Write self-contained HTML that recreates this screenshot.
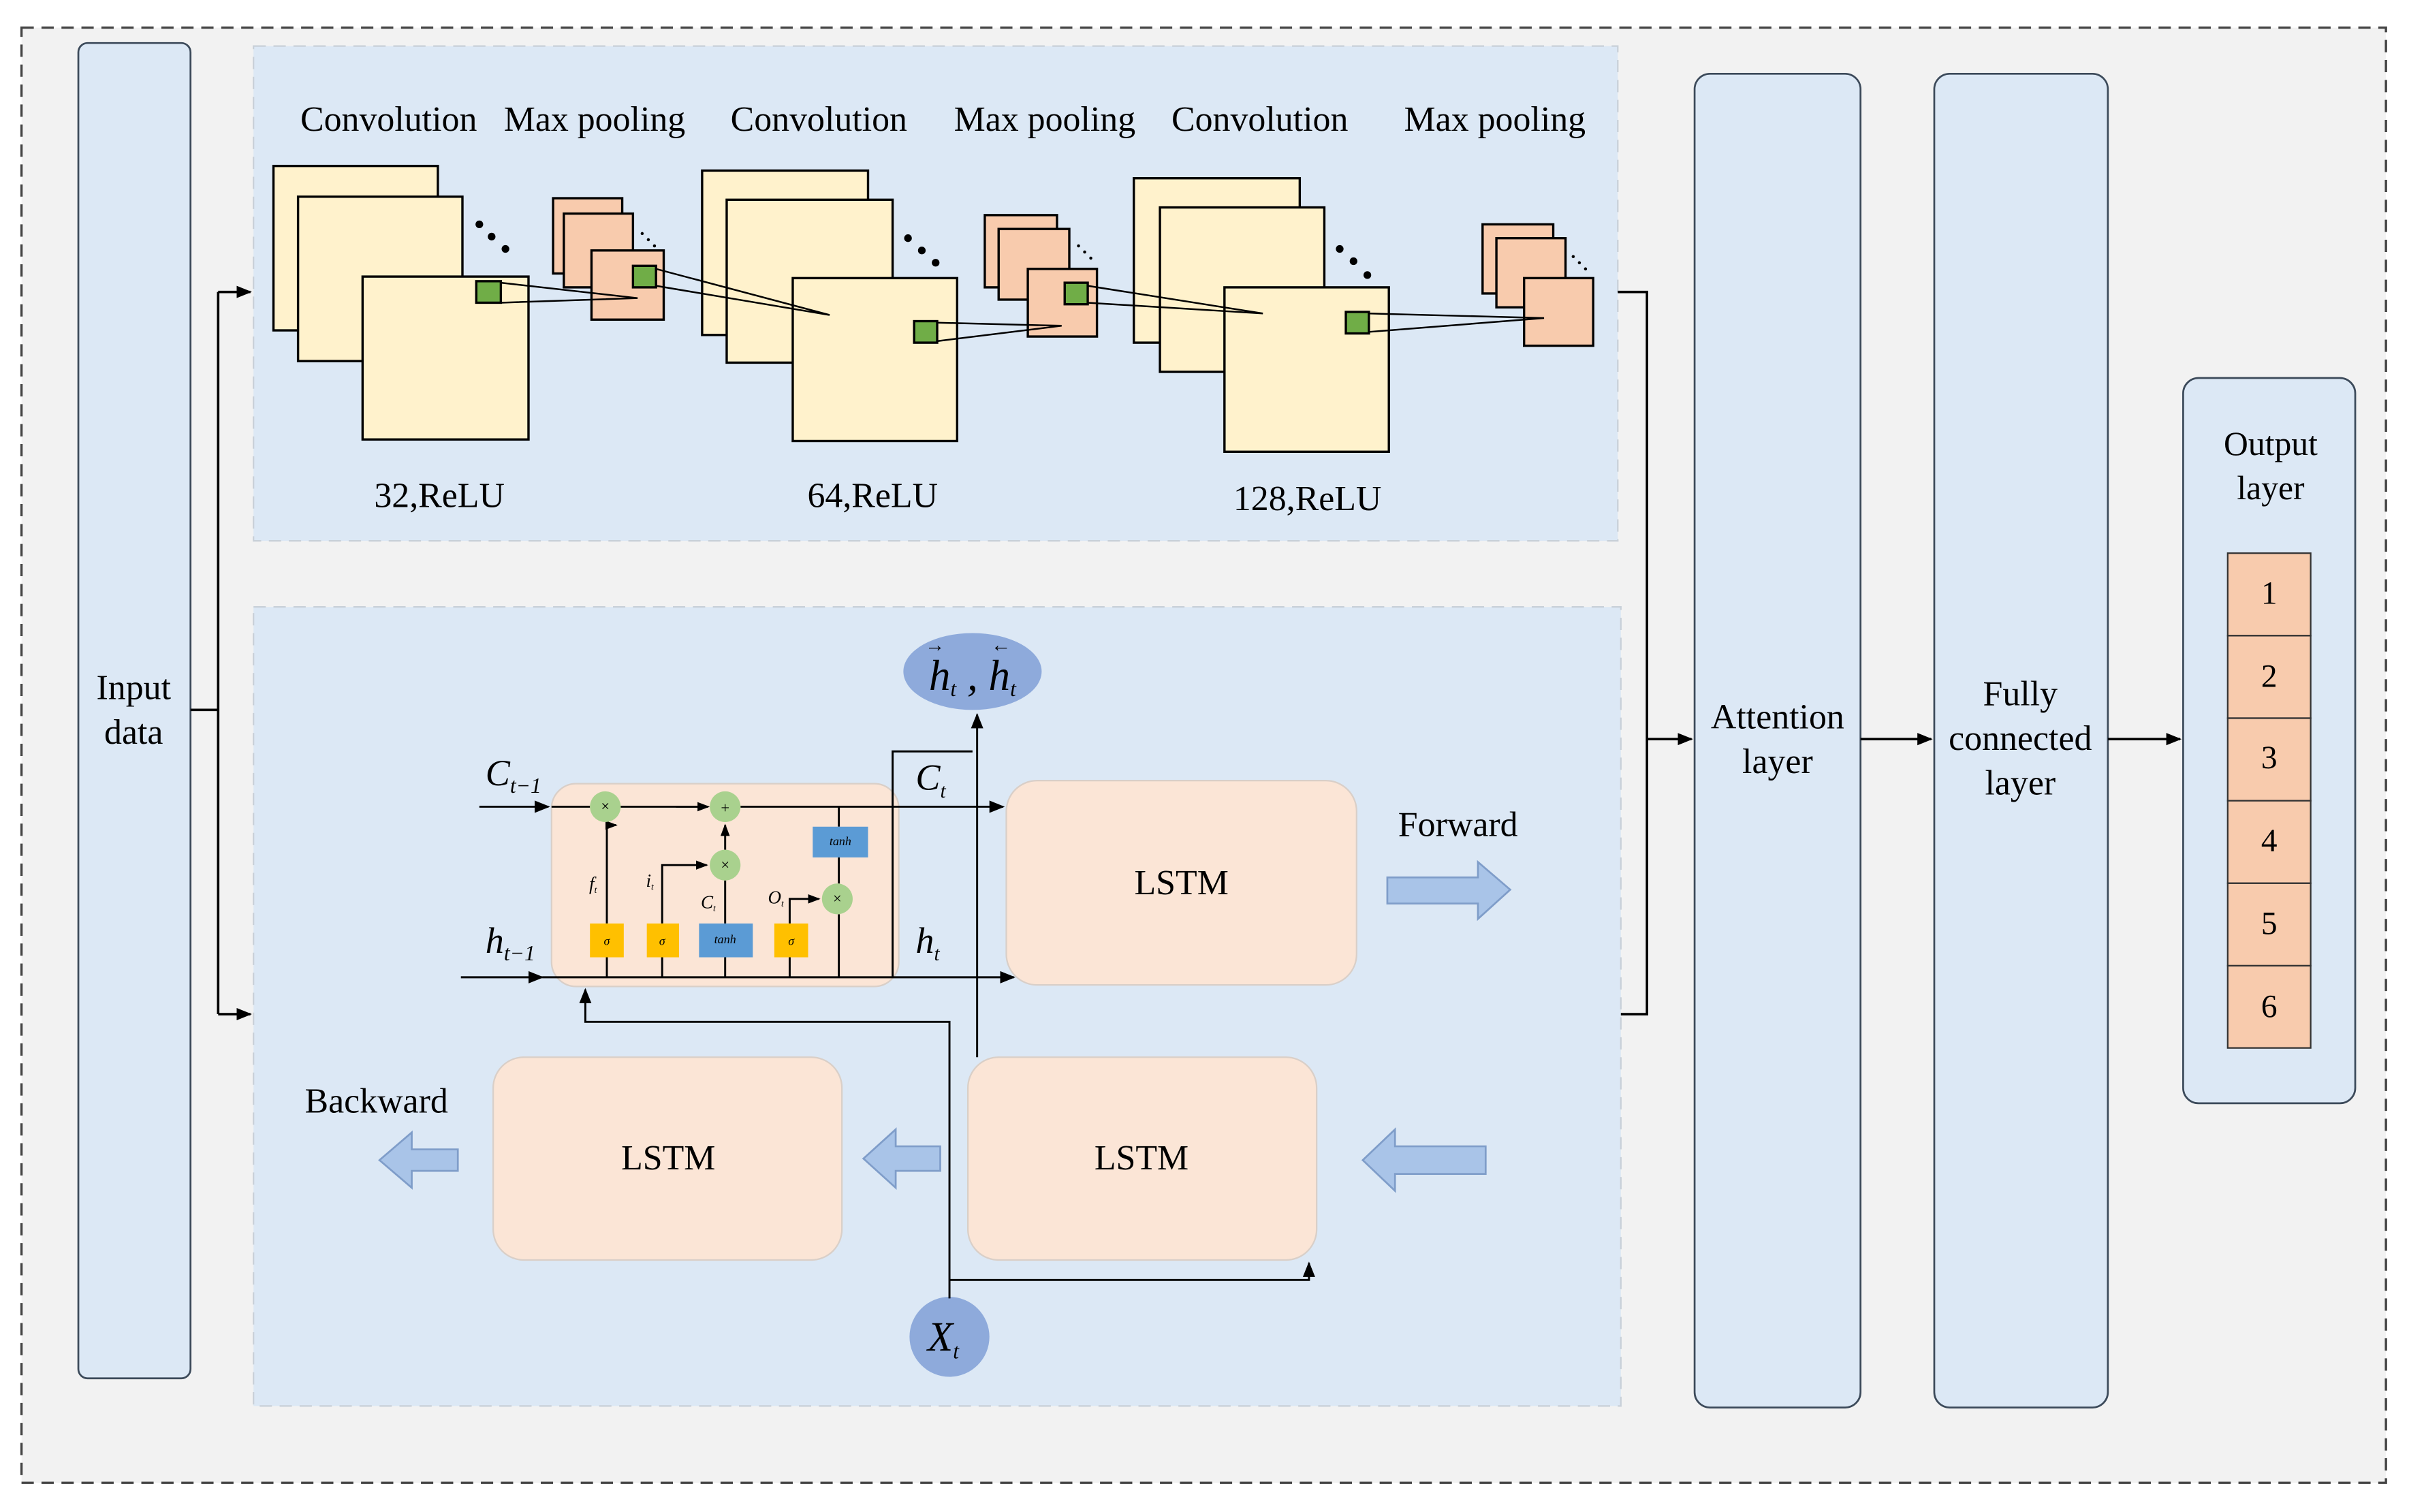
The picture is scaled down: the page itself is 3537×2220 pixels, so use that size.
<!DOCTYPE html>
<html><head><meta charset="utf-8"><style>html,body{margin:0;padding:0;background:#fff}svg{display:block}</style></head><body>
<svg width="3537" height="2220" viewBox="0 0 1568 984" preserveAspectRatio="none" xmlns="http://www.w3.org/2000/svg" font-family="Liberation Serif, serif">
<defs>
<marker id="a" markerWidth="10" markerHeight="10" refX="9" refY="5" orient="auto" markerUnits="userSpaceOnUse"><path d="M0,1 L10,5 L0,9 z" fill="#000"/></marker>
<marker id="s" markerWidth="8" markerHeight="8" refX="7" refY="4" orient="auto" markerUnits="userSpaceOnUse"><path d="M0,1 L8,4 L0,7 z" fill="#000"/></marker>
</defs>
<rect x="0" y="0" width="1568" height="984" fill="#fff"/>
<rect x="14" y="18" width="1539" height="947" fill="#f2f2f2" stroke="#444" stroke-width="1.5" stroke-dasharray="8,5"/>
<rect x="51" y="28" width="73" height="869" rx="6" fill="#dce8f5" stroke="#3c4a5a" stroke-width="1.2"/>
<text x="87" y="455" font-size="23" text-anchor="middle">Input</text>
<text x="87" y="484" font-size="23" text-anchor="middle">data</text>
<rect x="165" y="30" width="888" height="322" fill="#dce8f5" stroke="#c8d0d8" stroke-dasharray="8,5"/>
<rect x="165" y="395" width="890" height="520" fill="#dce8f5" stroke="#c8d0d8" stroke-dasharray="8,5"/>
<rect x="1103" y="48" width="108" height="868" rx="10" fill="#dce8f5" stroke="#3c4a5a" stroke-width="1.2"/>
<text x="1157" y="474" font-size="23" text-anchor="middle">Attention</text>
<text x="1157" y="503" font-size="23" text-anchor="middle">layer</text>
<rect x="1259" y="48" width="113" height="868" rx="10" fill="#dce8f5" stroke="#3c4a5a" stroke-width="1.2"/>
<text x="1315" y="459" font-size="23" text-anchor="middle">Fully</text>
<text x="1315" y="488" font-size="23" text-anchor="middle">connected</text>
<text x="1315" y="517" font-size="23" text-anchor="middle">layer</text>
<rect x="1421" y="246" width="112" height="472" rx="10" fill="#dce8f5" stroke="#3c4a5a" stroke-width="1.2"/>
<text x="1478" y="296" font-size="22" text-anchor="middle">Output</text>
<text x="1478" y="325" font-size="22" text-anchor="middle">layer</text>
<g fill="#f8cbad" stroke="#333" stroke-width="1">
<rect x="1450" y="360" width="54" height="53.7"/><rect x="1450" y="413.7" width="54" height="53.7"/><rect x="1450" y="467.4" width="54" height="53.7"/><rect x="1450" y="521.1" width="54" height="53.7"/><rect x="1450" y="574.8" width="54" height="53.7"/><rect x="1450" y="628.5" width="54" height="53.5"/>
</g>
<g font-size="21" text-anchor="middle"><text x="1477" y="393">1</text><text x="1477" y="447">2</text><text x="1477" y="500">3</text><text x="1477" y="554">4</text><text x="1477" y="608">5</text><text x="1477" y="662">6</text></g>
<g stroke="#000" stroke-width="1.6" fill="none">
<path d="M124,462 H142 M142,190 V660"/>
<path d="M142,190 H163" marker-end="url(#a)"/>
<path d="M142,660 H163" marker-end="url(#a)"/>
<path d="M1053,190 H1072 V660 H1055"/>
<path d="M1072,481 H1101" marker-end="url(#a)"/>
<path d="M1211,481 H1257" marker-end="url(#a)"/>
<path d="M1372,481 H1419" marker-end="url(#a)"/>
</g>
<g font-size="23" text-anchor="middle">
<text x="253" y="85">Convolution</text><text x="387" y="85">Max pooling</text>
<text x="533" y="85">Convolution</text><text x="680" y="85">Max pooling</text>
<text x="820" y="85">Convolution</text><text x="973" y="85">Max pooling</text>
<text x="286" y="330">32,ReLU</text><text x="568" y="330">64,ReLU</text><text x="851" y="332">128,ReLU</text>
</g>
<g stroke="#000" stroke-width="1.5">
<g fill="#fff2cc">
<rect x="178" y="108" width="107" height="107"/><rect x="194" y="128" width="107" height="107"/><rect x="236" y="180" width="108" height="106"/>
<rect x="457" y="111" width="108" height="107"/><rect x="473" y="130" width="108" height="106"/><rect x="516" y="181" width="107" height="106"/>
<rect x="738" y="116" width="108" height="107"/><rect x="755" y="135" width="107" height="107"/><rect x="797" y="187" width="107" height="107"/>
</g>
<g fill="#f8cbad">
<rect x="360" y="129" width="45" height="49"/><rect x="367" y="139" width="45" height="48"/><rect x="385" y="163" width="47" height="45"/>
<rect x="641" y="140" width="47" height="47"/><rect x="650" y="149" width="46" height="46"/><rect x="669" y="175" width="45" height="44"/>
<rect x="965" y="146" width="46" height="45"/><rect x="974" y="155" width="45" height="45"/><rect x="992" y="181" width="45" height="44"/>
</g>
<g fill="#70ad47">
<rect x="310" y="183" width="16" height="14"/><rect x="412" y="173" width="15" height="14"/>
<rect x="595" y="209" width="15" height="14"/><rect x="693" y="184" width="15" height="14"/>
<rect x="876" y="203" width="15" height="14"/>
</g>
<g fill="none" stroke-width="1.1">
<path d="M326,184 L415,194 L326,197"/><path d="M427,175 L540,205 L427,186"/>
<path d="M610,210 L691,212 L610,222"/><path d="M708,186 L822,204 L708,197"/>
<path d="M891,204 L1005,207 L891,216"/>
</g>
</g>
<g fill="#000">
<circle cx="312" cy="146" r="2.5"/><circle cx="320" cy="154" r="2.5"/><circle cx="329" cy="162" r="2.5"/>
<circle cx="591" cy="155" r="2.5"/><circle cx="600" cy="163" r="2.5"/><circle cx="609" cy="171" r="2.5"/>
<circle cx="872" cy="162" r="2.5"/><circle cx="881" cy="170" r="2.5"/><circle cx="890" cy="179" r="2.5"/>
<circle cx="418" cy="152" r="1"/><circle cx="422" cy="156" r="1"/><circle cx="426" cy="160" r="1"/>
<circle cx="702" cy="160" r="1"/><circle cx="706" cy="164" r="1"/><circle cx="710" cy="168" r="1"/>
<circle cx="1024" cy="167" r="1"/><circle cx="1028" cy="171" r="1"/><circle cx="1032" cy="175" r="1"/>
</g>
<rect x="359" y="510" width="226" height="132" rx="16" fill="#fbe5d6" stroke="#d9cfc8"/>
<rect x="655" y="508" width="228" height="133" rx="20" fill="#fbe5d6" stroke="#d9cfc8"/>
<rect x="321" y="688" width="227" height="132" rx="20" fill="#fbe5d6" stroke="#d9cfc8"/>
<rect x="630" y="688" width="227" height="132" rx="20" fill="#fbe5d6" stroke="#d9cfc8"/>
<g font-size="23" text-anchor="middle"><text x="769" y="582">LSTM</text><text x="435" y="761">LSTM</text><text x="743" y="761">LSTM</text>
<text x="949" y="544">Forward</text><text x="245" y="724">Backward</text></g>
<g fill="#a9c4e8" stroke="#7f9dc9" stroke-width="1.2">
<path d="M903,571 H962 V561 L983,579 L962,598 V588 H903 Z"/>
<path d="M298,748 H268 V737 L247,755 L268,773 V762 H298 Z"/>
<path d="M612,746 H583 V735 L562,754 L583,773 V762 H612 Z"/>
<path d="M967,746 H908 V735 L887,755 L908,775 V764 H967 Z"/>
</g>
<ellipse cx="633" cy="437" rx="45" ry="25" fill="#8eaadb"/>
<text x="633" y="449" font-size="28" font-style="italic" text-anchor="middle">h<tspan font-size="14" dy="4">t</tspan><tspan dy="-4"> , h</tspan><tspan font-size="14" dy="4">t</tspan></text>
<text x="602" y="424" font-size="13">→</text><text x="645" y="424" font-size="13">←</text>
<circle cx="618" cy="870" r="26" fill="#8eaadb"/>
<text x="614" y="879" font-size="27" font-style="italic" text-anchor="middle">X<tspan font-size="14" dy="5">t</tspan></text>
<g font-style="italic" font-size="24">
<text x="316" y="511">C<tspan font-size="14" dy="5">t−1</tspan></text>
<text x="316" y="620">h<tspan font-size="14" dy="5">t−1</tspan></text>
<text x="596" y="514">C<tspan font-size="13" dy="5">t</tspan></text>
<text x="596" y="620">h<tspan font-size="13" dy="5">t</tspan></text>
</g>
<g stroke="#000" stroke-width="1.3" fill="none">
<path d="M312,525 H357" marker-end="url(#a)"/>
<path d="M359,525 H384 M404,525 H460" /><path d="M440,525 H461" marker-end="url(#s)"/>
<path d="M482,525 H653" marker-end="url(#a)"/>
<path d="M300,636 H353" marker-end="url(#a)"/>
<path d="M353,636 H660" marker-end="url(#a)"/>
<path d="M581,636 V489 H633"/>
<path d="M636,688 V465" marker-end="url(#a)"/>
<path d="M618,845 V665 H381 V644" marker-end="url(#a)"/>
<path d="M618,833 H852 V822" marker-end="url(#a)"/>
<path d="M395,636 V623 M395,601 V537 H401" marker-end="url(#s)"/>
<path d="M431,636 V623 M431,601 V563 H460" marker-end="url(#s)"/>
<path d="M472,636 V623 M472,601 V573 M472,553 V537" marker-end="url(#s)"/>
<path d="M514,636 V623 M514,601 V585 H533" marker-end="url(#s)"/>
<path d="M546,636 V595 M546,575 V558 M546,538 V525"/>
</g>
<g fill="#a9d18e">
<circle cx="394" cy="525" r="10"/><circle cx="472" cy="525" r="10"/><circle cx="472" cy="563" r="10"/><circle cx="545" cy="585" r="10"/>
</g>
<g font-size="10" text-anchor="middle"><text x="394" y="528">×</text><text x="472" y="529">+</text><text x="472" y="566">×</text><text x="545" y="588">×</text></g>
<rect x="529" y="538" width="36" height="20" fill="#5b9bd5"/>
<rect x="455" y="601" width="35" height="22" fill="#5b9bd5"/>
<g fill="#ffc000"><rect x="384" y="601" width="22" height="22"/><rect x="421" y="601" width="21" height="22"/><rect x="504" y="601" width="22" height="22"/></g>
<g font-size="8" font-style="italic" text-anchor="middle"><text x="547" y="550">tanh</text><text x="472" y="614">tanh</text><text x="395" y="615">σ</text><text x="431" y="615">σ</text><text x="515" y="615">σ</text>
<text x="386" y="579" font-size="12">f<tspan font-size="6" dy="2">t</tspan></text><text x="423" y="577" font-size="12">i<tspan font-size="6" dy="2">t</tspan></text>
<text x="461" y="591" font-size="12">C<tspan font-size="6" dy="2">t</tspan></text><text x="505" y="588" font-size="12">O<tspan font-size="6" dy="2">t</tspan></text></g>
</svg>
</body></html>
